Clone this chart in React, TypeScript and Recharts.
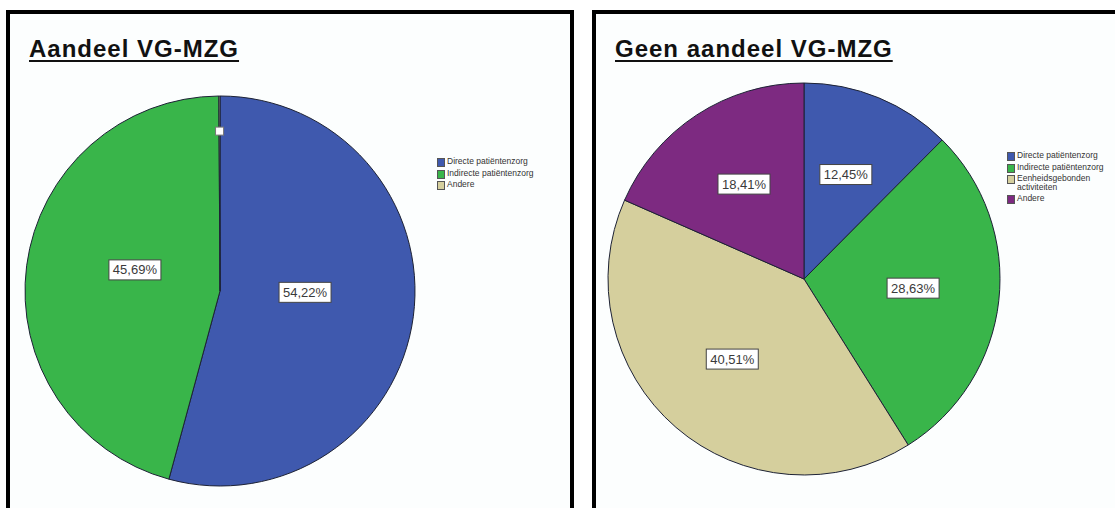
import React from 'react';
import { PieChart, Pie, Cell, Legend } from 'recharts';

const leftTitle = 'Aandeel VG-MZG';
const leftNames = ['Directe patiëntenzorg', 'Indirecte patiëntenzorg', 'Andere'];
const leftValues = [54.22, 45.69, 0.09];

const rightTitle = 'Geen aandeel VG-MZG';
const rightNames = ['Directe patiëntenzorg', 'Indirecte patiëntenzorg', 'Eenheidsgebonden activiteiten', 'Andere'];
const rightValues = [12.45, 28.63, 40.51, 18.41];

const BLUE = '#3f59ae';
const GREEN = '#39b54a';
const BEIGE = '#d5cf9d';
const PURPLE = '#7d2a81';

const leftColors = [BLUE, GREEN, BEIGE];
const rightColors = [BLUE, GREEN, BEIGE, PURPLE];

const RADIAN = Math.PI / 180;
const FONT = '"Liberation Sans", Arial, sans-serif';

const fmt = (v: number) => v.toFixed(2).replace('.', ',');

const makeLabel = (frac: number, dy: number) => (props: any) => {
  const { cx, cy, midAngle, outerRadius, value } = props;
  if (value < 1) {
    // tiny slice: SPSS leaves an empty box near the rim
    const r = outerRadius * 0.82;
    const x = cx + r * Math.cos(-midAngle * RADIAN);
    const y = cy + r * Math.sin(-midAngle * RADIAN);
    return <rect x={x - 4} y={y - 4} width={8} height={8} fill="#fff" stroke="#777" strokeWidth={1} />;
  }
  const r = outerRadius * frac;
  const x = cx + r * Math.cos(-midAngle * RADIAN);
  const y = cy + r * Math.sin(-midAngle * RADIAN) + dy;
  return (
    <g>
      <rect x={x - 26} y={y - 10} width={52} height={20} fill="#fff" stroke="#444" strokeWidth={1} />
      <text x={x} y={y + 4.5} textAnchor="middle" fontSize={13} fontFamily={FONT} fill="#3a3a3a">
        {fmt(value)}%
      </text>
    </g>
  );
};

const LegendBox = ({ names, colors }: { names: string[]; colors: string[] }) => (
  <div style={{ fontFamily: FONT, fontSize: 8.5, color: '#333', lineHeight: '9px' }}>
    {names.map((n, i) => (
      <div key={n} style={{ display: 'flex', alignItems: 'flex-start', marginBottom: 1.5 }}>
        <div
          style={{
            width: 6,
            height: 7,
            marginTop: 1,
            background: colors[i],
            border: '1px solid #555',
            marginRight: 2,
            flexShrink: 0,
          }}
        />
        <div style={{ width: 92 }}>{n}</div>
      </div>
    ))}
  </div>
);

const Panel = ({
  left,
  width,
  rightBorder,
  title,
  names,
  values,
  colors,
  cx,
  cy,
  radius,
  labelFrac,
  labelDy,
  legendPos,
}: any) => {
  const data = names.map((n: string, i: number) => ({ name: n, value: values[i], fill: colors[i] }));
  return (
    <div
      style={{
        position: 'absolute',
        left,
        top: 10,
        width,
        height: 520,
        background: '#fcfefe',
        borderTop: '4px solid #000',
        borderLeft: '4px solid #000',
        borderRight: rightBorder ? '4px solid #000' : 'none',
        overflow: 'hidden',
      }}
    >
      <div
        style={{
          position: 'absolute',
          left: 19,
          top: 23,
          fontFamily: FONT,
          fontWeight: 'bold',
          fontSize: 24,
          lineHeight: '24px',
          letterSpacing: 1,
          color: '#111',
          textDecoration: 'underline',
          textDecorationThickness: 2,
          textUnderlineOffset: 3,
          whiteSpace: 'nowrap',
        }}
      >
        {title}
      </div>
      <PieChart
        width={width}
        height={494}
        margin={{ top: 0, right: 0, bottom: 0, left: 0 }}
        style={{ position: 'absolute', left: 0, top: 0 }}
      >
        <Pie
          data={data}
          dataKey="value"
          nameKey="name"
          cx={cx}
          cy={cy}
          outerRadius={radius}
          startAngle={90}
          endAngle={-270}
          stroke="#1d2235"
          strokeWidth={1}
          labelLine={false}
          label={makeLabel(labelFrac, labelDy)}
          isAnimationActive={false}
        >
          {data.map((d: any) => (
            <Cell key={d.name} fill={d.fill} />
          ))}
        </Pie>
        <Legend
          layout="vertical"
          verticalAlign="top"
          align="right"
          wrapperStyle={{ position: 'absolute', left: legendPos[0], top: legendPos[1], width: 110 }}
          content={() => <LegendBox names={names} colors={colors} />}
        />
      </PieChart>
    </div>
  );
}

export default function App() {
  return (
    <div style={{ position: 'absolute', left: 0, top: 0, width: 1115, height: 508, background: '#fff', overflow: 'hidden' }}>
      <Panel
        left={6}
        width={560}
        rightBorder
        title={leftTitle}
        names={leftNames}
        values={leftValues}
        colors={leftColors}
        cx={210}
        cy={277}
        radius={195}
        labelFrac={0.44}
        labelDy={-10}
        legendPos={[427, 143]}
      />
      <Panel
        left={592}
        width={530}
        rightBorder={false}
        title={rightTitle}
        names={rightNames}
        values={rightValues}
        colors={rightColors}
        cx={208}
        cy={265}
        radius={196}
        labelFrac={0.56}
        labelDy={-3}
        legendPos={[411, 137]}
      />
    </div>
  );
}
